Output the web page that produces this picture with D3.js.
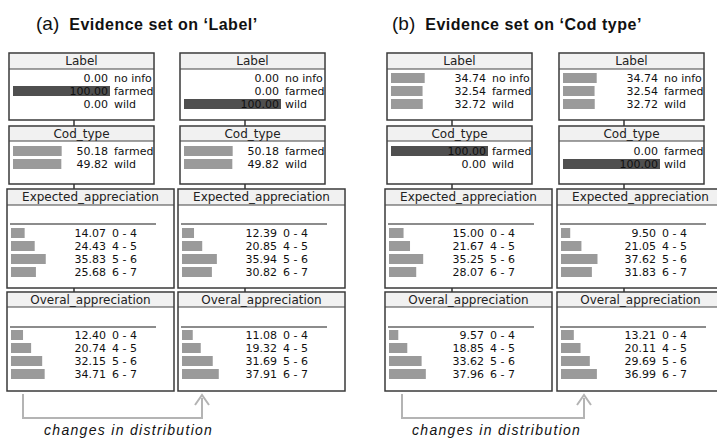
<!DOCTYPE html>
<html>
<head>
<meta charset="utf-8">
<script src="https://cdn.jsdelivr.net/npm/d3@7"></script>
<style>
  body { margin: 0; background: #fff; }
  svg { display: block; }
</style>
</head>
<body>
<div id="chart"></div>
<script>
// states of each node
const labelStates = ["no info", "farmed", "wild"]
const codStates = ["farmed", "wild"]
const rangeStates = ["0 - 4", "4 - 5", "5 - 6", "6 - 7"]

// probabilities (%) per panel: (a) left, (a) right, (b) left, (b) right
const labelProbs = [[0, 100, 0], [0, 0, 100], [34.74, 32.54, 32.72], [34.74, 32.54, 32.72]]
const codProbs = [[50.18, 49.82], [50.18, 49.82], [100, 0], [0, 100]]
const expectedProbs = [
	[14.07, 24.43, 35.83, 25.68],
	[12.39, 20.85, 35.94, 30.82],
	[15.00, 21.67, 35.25, 28.07],
	[9.50, 21.05, 37.62, 31.83]
]
const overalProbs = [
	[12.40, 20.74, 32.15, 34.71],
	[11.08, 19.32, 31.69, 37.91],
	[9.57, 18.85, 33.62, 37.96],
	[13.21, 20.11, 29.69, 36.99]
]
const titles = ["Evidence set on \u2018Label\u2019", "Evidence set on \u2018Cod type\u2019"]
const titleTags = ["(a)", "(b)"]
const arrowText = "changes in distribution"

// node boxes, top to bottom
const nodes = [
	{ name: "Label", states: labelStates, probs: labelProbs, top: 53, bottom: 120, head: 69, first: 25, wide: false },
	{ name: "Cod_type", states: codStates, probs: codProbs, top: 126, bottom: 184, head: 141, first: 25, wide: false },
	{ name: "Expected_appreciation", states: rangeStates, probs: expectedProbs, top: 189, bottom: 288, head: 205, first: 44, wide: true },
	{ name: "Overal_appreciation", states: rangeStates, probs: overalProbs, top: 292, bottom: 391, head: 307, first: 43, wide: true }
]

const panels = [
	{ small: 9, large: 7 },
	{ small: 180, large: 178 },
	{ small: 387, large: 385 },
	{ small: 559, large: 557 }
]

const width = 717, height = 438

const svg = d3.select("#chart")
	.append("svg")
		.attr("width", width)
		.attr("height", height)

// bar length scale
const x = d3.scaleLinear().domain([0, 100]).range([0, 97])
const fmt = d3.format(".2f")

panels.forEach((p, pi) => {
	nodes.forEach((n, ni) => {
		const bx = n.wide ? p.large : p.small
		const bw = n.wide ? 167 : 145
		const g = svg.append("g")

		// connector from the node above
		if (ni > 0) {
			g.append("line")
				.attr("x1", p.small + 65).attr("x2", p.small + 65)
				.attr("y1", nodes[ni - 1].bottom).attr("y2", n.top)
				.attr("stroke", "#333").attr("stroke-width", 1.5)
		}

		g.append("rect")
			.attr("x", bx).attr("y", n.top)
			.attr("width", bw).attr("height", n.bottom - n.top)
			.attr("fill", "#fff")
			.attr("stroke", "#3a3a3a").attr("stroke-width", 1.5)

		g.append("rect")
			.attr("x", bx + 1).attr("y", n.top + 1)
			.attr("width", bw - 2).attr("height", n.head - n.top - 1)
			.attr("fill", "#f1f1f1")
		g.append("line")
			.attr("x1", bx).attr("x2", bx + bw)
			.attr("y1", n.head).attr("y2", n.head)
			.attr("stroke", "#444").attr("stroke-width", 1.2)

		g.append("text")
			.attr("x", bx + bw / 2)
			.attr("y", (n.top + n.head) / 2)
			.attr("dy", "0.36em")
			.attr("text-anchor", "middle")
			.attr("font-family", "DejaVu Sans")
			.attr("font-size", 12)
			.attr("fill", "#222")
			.text(n.name)

		if (n.wide) {
			g.append("line")
				.attr("x1", bx + 3).attr("x2", bx + 149)
				.attr("y1", n.top + 35).attr("y2", n.top + 35)
				.attr("stroke", "#666").attr("stroke-width", 1.3)
		}

		const y = d3.scalePoint()
			.domain(n.states)
			.range([n.top + n.first, n.top + n.first + (n.states.length - 1) * 13])

		const rows = g.selectAll("g.row")
			.data(n.states.map((s, i) => ({ state: s, value: n.probs[pi][i] })))
			.join("g")
				.attr("class", "row")

		rows.append("rect")
			.attr("x", bx + 4)
			.attr("y", d => y(d.state) - 5)
			.attr("width", d => x(d.value))
			.attr("height", 10)
			.attr("fill", d => d.value === 100 ? "#4f4f4f" : "#9a9a9a")

		rows.append("text")
			.attr("x", bx + 99)
			.attr("y", d => y(d.state))
			.attr("dy", "0.36em")
			.attr("text-anchor", "end")
			.attr("font-family", "DejaVu Sans")
			.attr("font-size", 11)
			.attr("fill", "#111")
			.text(d => fmt(d.value))

		rows.append("text")
			.attr("x", bx + 105)
			.attr("y", d => y(d.state))
			.attr("dy", "0.36em")
			.attr("font-family", "DejaVu Sans")
			.attr("font-size", 11)
			.attr("fill", "#111")
			.text(d => d.state)
	})
})

// titles
const titleX = [36, 392]
titles.forEach((t, i) => {
	const tt = svg.append("text")
		.attr("x", titleX[i])
		.attr("y", 30)
		.attr("font-family", "Liberation Sans")
		.attr("fill", "#111")
	tt.append("tspan")
		.attr("font-size", 19)
		.text(titleTags[i])
	tt.append("tspan")
		.attr("dx", 10)
		.attr("font-size", 16)
		.attr("font-weight", "bold")
		.attr("letter-spacing", 0.5)
		.text(t)
})

// arrows showing the change between panels
const arrows = [{ x1: 23, x2: 202, tx: 44 }, { x1: 402, x2: 584, tx: 412 }]
arrows.forEach(a => {
	svg.append("path")
		.attr("d", `M${a.x1},394 V418 H${a.x2} V398`)
		.attr("fill", "none")
		.attr("stroke", "#b4b4b4")
		.attr("stroke-width", 2)
	svg.append("path")
		.attr("d", `M${a.x2 - 7},405 L${a.x2},395 L${a.x2 + 7},405`)
		.attr("fill", "none")
		.attr("stroke", "#b4b4b4")
		.attr("stroke-width", 2)
	svg.append("text")
		.attr("x", a.tx)
		.attr("y", 435)
		.attr("font-family", "Liberation Sans")
		.attr("font-style", "italic")
		.attr("font-size", 14)
		.attr("letter-spacing", 1.3)
		.attr("fill", "#111")
		.text(arrowText)
})
</script>
</body>
</html>
